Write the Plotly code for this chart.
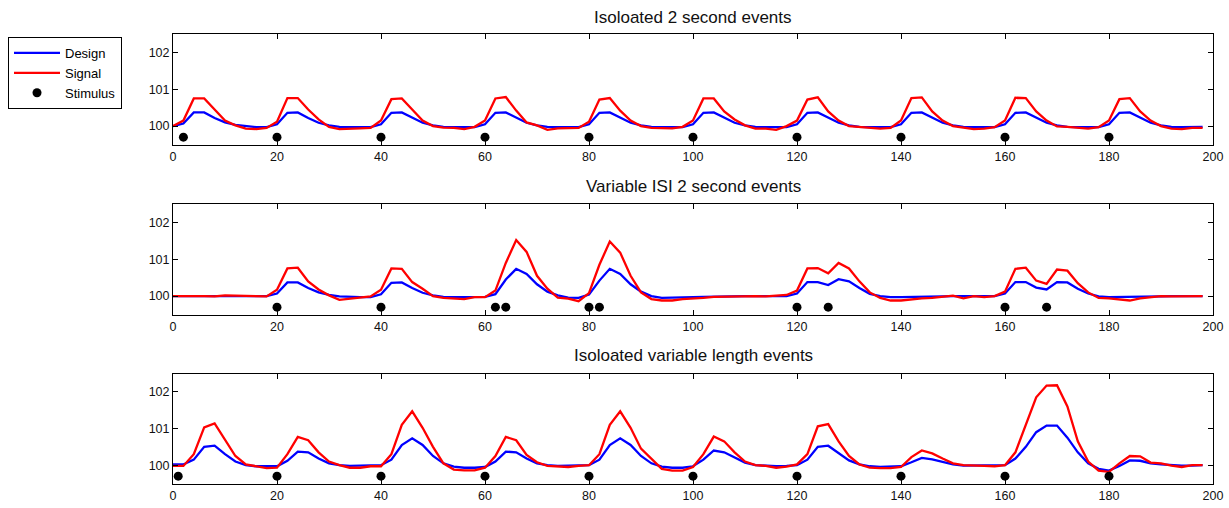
import plotly.graph_objects as go

# ---------------- data ----------------
time = list(range(0, 200, 2))

titles = ["Isoloated 2 second events",
          "Variable ISI 2 second events",
          "Isoloated variable length events"]

design1 = [100.00, 100.07, 100.37, 100.37, 100.22, 100.10, 100.03, 99.99, 99.97, 99.97,
           100.05, 100.36, 100.37, 100.22, 100.09, 100.02, 99.98, 99.97, 99.97, 99.97,
           100.05, 100.36, 100.37, 100.22, 100.09, 100.02, 99.98, 99.97, 99.97, 99.97,
           100.05, 100.36, 100.37, 100.22, 100.09, 100.02, 99.98, 99.97, 99.97, 99.97,
           100.05, 100.36, 100.37, 100.22, 100.09, 100.02, 99.98, 99.97, 99.97, 99.97,
           100.05, 100.36, 100.37, 100.22, 100.09, 100.02, 99.98, 99.97, 99.97, 99.97,
           100.05, 100.36, 100.37, 100.22, 100.09, 100.02, 99.98, 99.97, 99.97, 99.97,
           100.05, 100.36, 100.37, 100.22, 100.09, 100.02, 99.98, 99.97, 99.97, 99.97,
           100.05, 100.36, 100.37, 100.22, 100.09, 100.02, 99.98, 99.97, 99.97, 99.97,
           100.05, 100.36, 100.37, 100.22, 100.09, 100.02, 99.98, 99.97, 99.97, 99.98]

signal1 = [100.00, 100.15, 100.75, 100.75, 100.45, 100.15, 100.02, 99.93, 99.92, 99.95,
           100.12, 100.76, 100.76, 100.45, 100.18, 99.98, 99.92, 99.92, 99.94, 99.95,
           100.15, 100.73, 100.75, 100.45, 100.15, 100.00, 99.96, 99.95, 99.92, 99.98,
           100.15, 100.75, 100.79, 100.42, 100.10, 100.02, 99.90, 99.94, 99.95, 99.95,
           100.12, 100.72, 100.76, 100.42, 100.15, 100.00, 99.95, 99.94, 99.94, 99.98,
           100.15, 100.75, 100.75, 100.40, 100.18, 100.02, 99.93, 99.93, 99.90, 100.00,
           100.15, 100.72, 100.78, 100.40, 100.15, 100.00, 99.98, 99.95, 99.93, 99.95,
           100.15, 100.76, 100.78, 100.40, 100.15, 100.00, 99.95, 99.92, 99.93, 99.97,
           100.15, 100.77, 100.76, 100.40, 100.15, 99.99, 99.98, 99.95, 99.93, 99.97,
           100.15, 100.73, 100.76, 100.40, 100.15, 100.00, 99.93, 99.92, 99.95, 99.95]

design2 = [100.00, 100.00, 100.00, 100.00, 100.00, 100.00, 100.00, 100.00, 100.00, 100.00,
           100.07, 100.37, 100.37, 100.22, 100.10, 100.03, 99.99, 99.97, 99.97, 99.97,
           100.05, 100.36, 100.37, 100.22, 100.09, 100.02, 99.98, 99.97, 99.97, 99.97,
           99.98, 100.05, 100.45, 100.74, 100.60, 100.32, 100.12, 100.02, 99.96, 99.95,
           100.04, 100.42, 100.74, 100.60, 100.32, 100.12, 100.00, 99.95, 99.95, 99.96,
           99.97, 99.98, 99.99, 99.99, 100.00, 100.00, 100.00, 100.00, 100.00, 100.00,
           100.07, 100.38, 100.38, 100.30, 100.46, 100.40, 100.22, 100.06, 100.00, 99.97,
           99.97, 99.97, 99.98, 99.99, 99.99, 100.00, 100.00, 100.00, 100.00, 100.00,
           100.07, 100.38, 100.38, 100.23, 100.18, 100.38, 100.37, 100.20, 100.07, 99.99,
           99.97, 99.97, 99.97, 99.98, 99.99, 99.99, 100.00, 100.00, 100.00, 100.00]

signal2 = [100.00, 100.00, 100.02, 100.00, 99.99, 100.02, 100.01, 100.00, 100.00, 99.99,
           100.17, 100.75, 100.77, 100.40, 100.18, 100.02, 99.90, 99.93, 99.96, 99.99,
           100.17, 100.75, 100.74, 100.38, 100.20, 100.00, 99.95, 99.93, 99.92, 99.97,
           99.97, 100.15, 100.90, 101.52, 101.20, 100.55, 100.20, 99.96, 99.93, 99.86,
           100.08, 100.85, 101.48, 101.18, 100.55, 100.10, 99.92, 99.88, 99.88, 99.92,
           99.93, 99.95, 99.98, 99.99, 100.00, 99.99, 100.00, 99.99, 100.00, 100.03,
           100.15, 100.75, 100.76, 100.62, 100.90, 100.75, 100.40, 100.10, 99.95, 99.88,
           99.88, 99.92, 99.94, 99.95, 99.97, 100.01, 99.94, 100.00, 99.97, 100.00,
           100.12, 100.74, 100.77, 100.42, 100.33, 100.72, 100.69, 100.35, 100.10, 99.95,
           99.94, 99.91, 99.88, 99.94, 99.96, 100.00, 99.99, 100.00, 99.99, 100.00]

design3 = [100.02, 100.02, 100.15, 100.50, 100.53, 100.30, 100.10, 100.00, 99.97, 99.96,
           99.97, 100.12, 100.37, 100.35, 100.18, 100.05, 100.00, 99.98, 99.98, 99.99,
           100.00, 100.15, 100.55, 100.73, 100.55, 100.25, 100.05, 99.96, 99.93, 99.93,
           99.95, 100.10, 100.37, 100.35, 100.18, 100.05, 100.00, 99.98, 99.98, 99.99,
           100.00, 100.15, 100.55, 100.73, 100.55, 100.25, 100.05, 99.96, 99.93, 99.93,
           99.97, 100.15, 100.40, 100.35, 100.20, 100.07, 100.00, 99.98, 99.97, 99.98,
           100.00, 100.15, 100.50, 100.53, 100.33, 100.13, 100.02, 99.97, 99.95, 99.95,
           99.97, 100.08, 100.20, 100.16, 100.08, 100.02, 99.99, 99.99, 99.99, 99.99,
           100.00, 100.18, 100.50, 100.90, 101.08, 101.08, 100.75, 100.35, 100.05, 99.90,
           99.85, 99.98, 100.13, 100.12, 100.05, 100.02, 100.00, 99.99, 99.99, 100.00]

signal3 = [99.98, 99.98, 100.30, 101.03, 101.14, 100.70, 100.25, 100.02, 99.97, 99.92,
           99.93, 100.30, 100.77, 100.68, 100.35, 100.10, 100.00, 99.93, 99.93, 99.97,
           99.97, 100.30, 101.10, 101.47, 101.02, 100.50, 100.05, 99.88, 99.86, 99.86,
           99.93, 100.25, 100.77, 100.68, 100.28, 100.08, 99.98, 99.96, 99.95, 99.98,
           100.00, 100.30, 101.10, 101.47, 101.02, 100.45, 100.18, 99.90, 99.85, 99.85,
           99.95, 100.30, 100.78, 100.65, 100.35, 100.10, 100.00, 99.98, 99.93, 99.96,
           100.02, 100.30, 101.06, 101.12, 100.65, 100.25, 100.02, 99.93, 99.92, 99.92,
           99.95, 100.22, 100.40, 100.32, 100.18, 100.05, 100.00, 99.98, 99.98, 99.97,
           100.00, 100.35, 101.10, 101.85, 102.17, 102.18, 101.60, 100.65, 100.10, 99.85,
           99.82, 100.05, 100.25, 100.24, 100.07, 100.05, 99.99, 99.95, 100.00, 100.00]

stim1 = [2, 20, 40, 60, 80, 100, 120, 140, 160, 180]
stim2 = [20, 40, 62, 64, 80, 82, 120, 126, 160, 168]
stim3 = [1, 20, 40, 60, 80, 100, 120, 140, 160, 180]
stim_level = 99.7

x_ticks = [0, 20, 40, 60, 80, 100, 120, 140, 160, 180, 200]
y_ticks = [100, 101, 102]

designs = [design1, design2, design3]
signals = [signal1, signal2, signal3]
stims = [stim1, stim2, stim3]

# ---------------- layout geometry ----------------
W, H = 1229, 508
left_px, right_px = 173, 1213
panel_px = [(34, 144.5), (204, 314.5), (373.5, 483.5)]
title_px = [17, 186, 355]

FONT = "Liberation Sans, Arial, Helvetica, sans-serif"

fig = go.Figure()
for i in range(3):
    xa = "x" if i == 0 else f"x{i+1}"
    ya = "y" if i == 0 else f"y{i+1}"
    show = (i == 0)
    fig.add_trace(go.Scatter(x=time, y=designs[i], mode="lines", name="Design",
                             line=dict(color="#0000ff", width=2.3),
                             xaxis=xa, yaxis=ya, showlegend=show))
    fig.add_trace(go.Scatter(x=time, y=signals[i], mode="lines", name="Signal",
                             line=dict(color="#ff0000", width=2.3),
                             xaxis=xa, yaxis=ya, showlegend=show))
    fig.add_trace(go.Scatter(x=stims[i], y=[stim_level] * len(stims[i]), mode="markers",
                             name="Stimulus", marker=dict(color="black", size=9),
                             xaxis=xa, yaxis=ya, showlegend=show))

axis_common = dict(showline=True, linecolor="black", linewidth=1, mirror="ticks",
                   ticks="inside", ticklen=5, tickcolor="black", tickwidth=1,
                   showgrid=False, zeroline=False, automargin=False,
                   tickfont=dict(family=FONT, size=12.5, color="#111111"))

layout = dict(width=W, height=H, margin=dict(l=0, r=0, t=0, b=0, autoexpand=False),
              paper_bgcolor="white", plot_bgcolor="white",
              font=dict(family=FONT, color="black"),
              showlegend=True,
              legend=dict(x=8 / W, y=1 - 37 / H, xanchor="left", yanchor="top",
                          bordercolor="black", borderwidth=1, bgcolor="white",
                          font=dict(family=FONT, size=13, color="black"),
                          itemwidth=46, tracegroupgap=0))

annotations = []
for i in range(3):
    top, bot = panel_px[i]
    xk = "xaxis" if i == 0 else f"xaxis{i+1}"
    yk = "yaxis" if i == 0 else f"yaxis{i+1}"
    layout[xk] = dict(domain=[left_px / W, right_px / W], range=[0, 200],
                      tickvals=x_ticks, anchor="y" if i == 0 else f"y{i+1}",
                      **axis_common)
    layout[yk] = dict(domain=[1 - bot / H, 1 - top / H], range=[99.5, 102.5],
                      tickvals=y_ticks, anchor="x" if i == 0 else f"x{i+1}",
                      **axis_common)
    annotations.append(dict(text=titles[i], xref="paper", yref="paper",
                            x=(left_px + right_px) / 2 / W, y=1 - title_px[i] / H,
                            xanchor="center", yanchor="middle", showarrow=False,
                            font=dict(family=FONT, size=17, color="#111111")))
layout["annotations"] = annotations

fig.update_layout(**layout)
fig.write_html("out.html",
               config={"displayModeBar": False},
               post_script="document.body.style.margin='0px';document.body.style.overflow='hidden';")
